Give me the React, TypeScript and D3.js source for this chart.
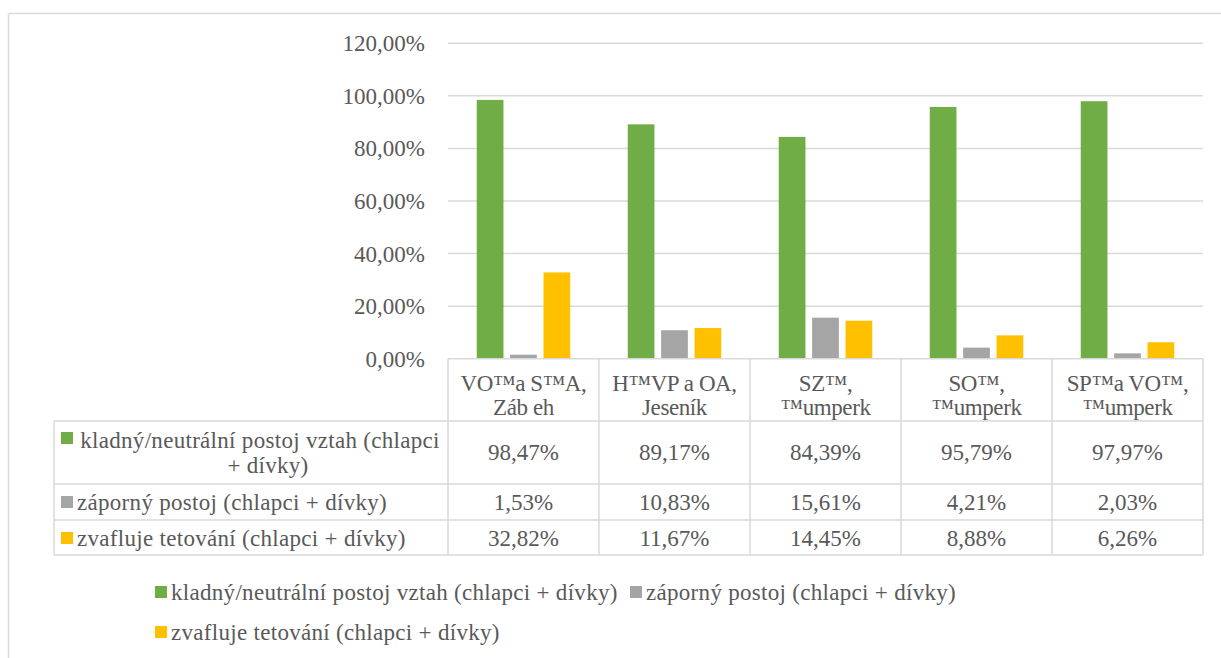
import React from "react";
import * as d3 from "d3";

const categories: string[][] = [
  ["VO™a S™A,", "Záb eh"],
  ["H™VP a OA,", "Jeseník"],
  ["SZ™,", "™umperk"],
  ["SO™,", "™umperk"],
  ["SP™a VO™,", "™umperk"],
];
const seriesNames = [
  "kladný/neutrální postoj vztah (chlapci + dívky)",
  "záporný postoj (chlapci + dívky)",
  "zvafluje tetování (chlapci + dívky)",
];
const kladny = [98.47, 89.17, 84.39, 95.79, 97.97];
const zaporny = [1.53, 10.83, 15.61, 4.21, 2.03];
const tetovani = [32.82, 11.67, 14.45, 8.88, 6.26];
const yTicks = [0, 20, 40, 60, 80, 100, 120];
const colors = ["#70AD47", "#A5A5A5", "#FFC000"];

const series = [kladny, zaporny, tetovani];
const fmt = (v: number) => v.toFixed(2).replace(".", ",") + "%";

export default function App() {
  const W = 1221, H = 658;
  const left = 448, right = 1203;
  const y0 = 358.7, yTop = 43.3;
  const FS = 23;
  const txt = "#595959";
  const grid = "#D9D9D9";

  const x0 = d3.scaleBand<number>().domain(d3.range(categories.length)).range([left, right]).padding(0);
  const cw = x0.bandwidth();
  const groupW = 93.5;
  const x1 = d3.scaleBand<number>().domain(d3.range(series.length))
    .range([(cw - groupW) / 2, (cw + groupW) / 2]).paddingInner(0.2).paddingOuter(0);
  const y = d3.scaleLinear().domain([0, 120]).range([y0, yTop]);

  const tLeft = 54;
  const rowTops = [y0, 421, 484, 520, 555];

  const st: React.CSSProperties = { fontFamily: "Liberation Serif", fontSize: FS };
  const stL: React.CSSProperties = { fontFamily: "Liberation Serif", fontSize: FS, letterSpacing: 0.3 };
  const stH: React.CSSProperties = { fontFamily: "Liberation Serif", fontSize: FS, letterSpacing: -0.4 };

  return (
    <svg width={W} height={H} style={{ position: "absolute", left: 0, top: 0, background: "#fff" }}>
      <rect x={0} y={0} width={W} height={H} fill="#fff" />
      <line x1={8.5} y1={13.5} x2={W} y2={13.5} stroke={grid} strokeWidth={1.5} />
      <line x1={8.5} y1={13.5} x2={8.5} y2={H} stroke={grid} strokeWidth={1.5} />

      {yTicks.map((t) => (
        <g key={t}>
          {t > 0 && <line x1={left} x2={right} y1={y(t)} y2={y(t)} stroke={grid} strokeWidth={1.5} />}
          <text x={425} y={y(t)} dy="0.35em" textAnchor="end" fill={txt} style={st}>{fmt(t)}</text>
        </g>
      ))}

      {series.map((vals, si) =>
        vals.map((v, ci) => (
          <rect key={`${si}-${ci}`} x={(x0(ci) as number) + (x1(si) as number)} y={y(v)}
            width={x1.bandwidth()} height={y0 - y(v)} fill={colors[si]} />
        ))
      )}

      <g stroke={grid} strokeWidth={1.5} fill="none">
        <line x1={left} x2={right} y1={y0} y2={y0} />
        {rowTops.slice(1).map((ry, i) => (
          <line key={i} x1={tLeft} x2={right} y1={ry} y2={ry} />
        ))}
        <line x1={tLeft} x2={tLeft} y1={rowTops[1]} y2={rowTops[4]} />
        {d3.range(categories.length + 1).map((i) => {
          const xx = i < categories.length ? (x0(i) as number) : right;
          return <line key={i} x1={xx} x2={xx} y1={y0} y2={rowTops[4]} />;
        })}
      </g>

      {categories.map((c, i) => {
        const cx = (x0(i) as number) + cw / 2;
        return (
          <g key={i}>
            <text x={cx} y={383} dy="0.35em" textAnchor="middle" fill={txt} style={stH}>{c[0]}</text>
            <text x={cx} y={407} dy="0.35em" textAnchor="middle" fill={txt} style={stH}>{c[1]}</text>
          </g>
        );
      })}

      <rect x={61} y={432} width={12} height={12} fill={colors[0]} />
      <text x={260} y={440} dy="0.35em" textAnchor="middle" fill={txt} style={stL}>kladný/neutrální postoj vztah (chlapci</text>
      <text x={268} y={465} dy="0.35em" textAnchor="middle" fill={txt} style={stL}>+ dívky)</text>
      <rect x={61} y={496} width={12} height={12} fill={colors[1]} />
      <text x={77} y={502} dy="0.35em" fill={txt} style={stL}>{seriesNames[1]}</text>
      <rect x={61} y={532} width={12} height={12} fill={colors[2]} />
      <text x={77} y={538} dy="0.35em" fill={txt} style={stL}>{seriesNames[2]}</text>

      {series.map((vals, si) =>
        vals.map((v, ci) => {
          const cy = [452, 502, 538][si];
          return (
            <text key={`v${si}-${ci}`} x={(x0(ci) as number) + cw / 2} y={cy} dy="0.35em" textAnchor="middle" fill={txt} style={st}>
              {fmt(v)}
            </text>
          );
        })
      )}

      <rect x={155} y={586} width={12} height={12} fill={colors[0]} />
      <text x={171} y={592} dy="0.35em" fill={txt} style={stL}>{seriesNames[0]}</text>
      <rect x={630} y={586} width={12} height={12} fill={colors[1]} />
      <text x={646} y={592} dy="0.35em" fill={txt} style={stL}>{seriesNames[1]}</text>
      <rect x={155} y={626} width={12} height={12} fill={colors[2]} />
      <text x={171} y={632} dy="0.35em" fill={txt} style={stL}>{seriesNames[2]}</text>
    </svg>
  );
}
